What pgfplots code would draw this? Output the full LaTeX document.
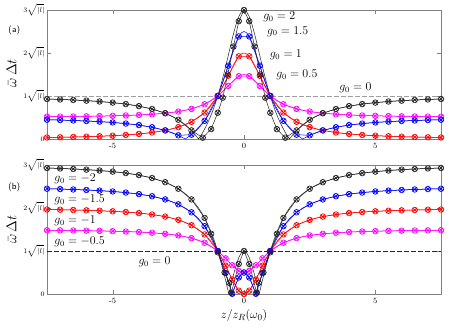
\documentclass[border=0pt]{standalone}
\usepackage{pgfplots}
\usepackage{pgfplotstable}
\pgfplotsset{compat=1.18}
\definecolor{mblack}{RGB}{35,35,35}
\definecolor{mblue}{RGB}{0,0,255}
\definecolor{mred}{RGB}{255,0,0}
\definecolor{mmag}{RGB}{255,0,255}

% theory curves: a* = g0>0 (panel a), b* = g0<0 (panel b)
\pgfplotstableread{
z a2 a15 a1 a05 b2 b15 b1 b05
-7.5 0.9301 0.4476 0.0349 0.5175 2.9301 2.4476 1.9651 1.4825
-7.0 0.92 0.44 0.04 0.52 2.92 2.44 1.96 1.48
-6.5 0.9075 0.4306 0.0462 0.5231 2.9075 2.4306 1.9538 1.4769
-6.0 0.8919 0.4189 0.0541 0.5270 2.8919 2.4189 1.9459 1.4730
-5.5 0.872 0.404 0.064 0.532 2.872 2.404 1.936 1.468
-5.0 0.8462 0.3846 0.0769 0.5385 2.8462 2.3846 1.9231 1.4615
-4.5 0.8118 0.3588 0.0941 0.5471 2.8118 2.3588 1.9059 1.4529
-4.0 0.7647 0.3235 0.1176 0.5588 2.7647 2.3235 1.8824 1.4412
-3.5 0.6981 0.2736 0.1509 0.5755 2.6981 2.2736 1.8491 1.4245
-3.0 0.6 0.2 0.2 0.6 2.6 2.2 1.8 1.4
-2.75 0.5328 0.1496 0.2336 0.6168 2.5328 2.1496 1.7664 1.3832
-2.5 0.4483 0.0862 0.2759 0.6379 2.4483 2.0862 1.7241 1.3621
-2.236 0.3333 0 0.3333 0.6667 2.3333 2.0 1.6667 1.3333
-2.0 0.2 0.1 0.4 0.7 2.2 1.9 1.6 1.3
-1.8 0.0566 0.2075 0.4717 0.7358 2.0566 1.7925 1.5283 1.2642
-1.732 0 0.25 0.5 0.75 2 1.75 1.5 1.25
-1.6 0.1236 0.3427 0.5618 0.7809 1.8764 1.6573 1.4382 1.2191
-1.5 0.2308 0.4231 0.6154 0.8077 1.7692 1.5769 1.3846 1.1923
-1.4 0.3514 0.5135 0.6757 0.8378 1.6486 1.4865 1.3243 1.1622
-1.3 0.487 0.6152 0.7435 0.8718 1.513 1.3848 1.2565 1.1283
-1.2 0.6393 0.7295 0.8197 0.9098 1.3607 1.2705 1.1803 1.0902
-1.1 0.81 0.8575 0.905 0.9525 1.19 1.1425 1.095 1.0475
-1.0 1 1 1 1 1 1 1 1
-0.9 1.2099 1.1575 1.105 1.0525 0.7901 0.8425 0.895 0.9475
-0.8 1.439 1.3293 1.2195 1.1098 0.561 0.6707 0.7805 0.8902
-0.7 1.6846 1.5134 1.3423 1.1711 0.3154 0.4866 0.6577 0.8289
-0.6 1.9412 1.7059 1.4706 1.2353 0.0588 0.2941 0.5294 0.7647
-0.577 2.0 1.75 1.5 1.25 0 0.25 0.5 0.75
-0.5 2.2 1.9 1.6 1.3 0.2 0.1 0.4 0.7
-0.447 2.3333 2.0 1.6667 1.3333 0.3333 0 0.3333 0.6667
-0.4 2.4483 2.0862 1.7241 1.3621 0.4483 0.0862 0.2759 0.6379
-0.3 2.6697 2.2523 1.8349 1.4174 0.6697 0.2523 0.1651 0.5826
-0.2 2.8462 2.3846 1.9231 1.4615 0.8462 0.3846 0.0769 0.5385
-0.1 2.9604 2.4703 1.9802 1.4901 0.9604 0.4703 0.0198 0.5099
0 3 2.5 2 1.5 1 0.5 0 0.5
0.1 2.9604 2.4703 1.9802 1.4901 0.9604 0.4703 0.0198 0.5099
0.2 2.8462 2.3846 1.9231 1.4615 0.8462 0.3846 0.0769 0.5385
0.3 2.6697 2.2523 1.8349 1.4174 0.6697 0.2523 0.1651 0.5826
0.4 2.4483 2.0862 1.7241 1.3621 0.4483 0.0862 0.2759 0.6379
0.447 2.3333 2.0 1.6667 1.3333 0.3333 0 0.3333 0.6667
0.5 2.2 1.9 1.6 1.3 0.2 0.1 0.4 0.7
0.577 2.0 1.75 1.5 1.25 0 0.25 0.5 0.75
0.6 1.9412 1.7059 1.4706 1.2353 0.0588 0.2941 0.5294 0.7647
0.7 1.6846 1.5134 1.3423 1.1711 0.3154 0.4866 0.6577 0.8289
0.8 1.439 1.3293 1.2195 1.1098 0.561 0.6707 0.7805 0.8902
0.9 1.2099 1.1575 1.105 1.0525 0.7901 0.8425 0.895 0.9475
1.0 1 1 1 1 1 1 1 1
1.1 0.81 0.8575 0.905 0.9525 1.19 1.1425 1.095 1.0475
1.2 0.6393 0.7295 0.8197 0.9098 1.3607 1.2705 1.1803 1.0902
1.3 0.487 0.6152 0.7435 0.8718 1.513 1.3848 1.2565 1.1283
1.4 0.3514 0.5135 0.6757 0.8378 1.6486 1.4865 1.3243 1.1622
1.5 0.2308 0.4231 0.6154 0.8077 1.7692 1.5769 1.3846 1.1923
1.6 0.1236 0.3427 0.5618 0.7809 1.8764 1.6573 1.4382 1.2191
1.732 0 0.25 0.5 0.75 2 1.75 1.5 1.25
1.8 0.0566 0.2075 0.4717 0.7358 2.0566 1.7925 1.5283 1.2642
2.0 0.2 0.1 0.4 0.7 2.2 1.9 1.6 1.3
2.236 0.3333 0 0.3333 0.6667 2.3333 2.0 1.6667 1.3333
2.5 0.4483 0.0862 0.2759 0.6379 2.4483 2.0862 1.7241 1.3621
2.75 0.5328 0.1496 0.2336 0.6168 2.5328 2.1496 1.7664 1.3832
3.0 0.6 0.2 0.2 0.6 2.6 2.2 1.8 1.4
3.5 0.6981 0.2736 0.1509 0.5755 2.6981 2.2736 1.8491 1.4245
4.0 0.7647 0.3235 0.1176 0.5588 2.7647 2.3235 1.8824 1.4412
4.5 0.8118 0.3588 0.0941 0.5471 2.8118 2.3588 1.9059 1.4529
5.0 0.8462 0.3846 0.0769 0.5385 2.8462 2.3846 1.9231 1.4615
5.5 0.872 0.404 0.064 0.532 2.872 2.404 1.936 1.468
6.0 0.8919 0.4189 0.0541 0.5270 2.8919 2.4189 1.9459 1.4730
6.5 0.9075 0.4306 0.0462 0.5231 2.9075 2.4306 1.9538 1.4769
7.0 0.92 0.44 0.04 0.52 2.92 2.44 1.96 1.48
7.5 0.9301 0.4476 0.0349 0.5175 2.9301 2.4476 1.9651 1.4825
}\theory

\pgfplotsset{
  panel/.style={
    scale only axis, width=394bp, height=129bp,
    xmin=-7.5, xmax=7.5, ymin=0, ymax=3,
    xtick={-5,0,5}, xticklabels={-5,0,5},
    ytick={0,1,2,3},
    yticklabels={$0$,$1\sqrt{|l|}$,$2\sqrt{|l|}$,$3\sqrt{|l|}$},
    tick align=inside, major tick length=4bp,
    axis line style={black!50, line width=0.6bp}, tick style={black!50},
    xticklabel style={font=\footnotesize, yshift=-1bp},
    yticklabel style={font=\scriptsize, xshift=1bp},
    clip=false,
  },
  thy/.style={line width=0.5bp},
  sim/.style={line width=0.5bp, mark=otimes, mark size=2.8bp, mark options={solid, line width=0.7bp}},
}
\tikzset{lab/.style={font=\fontsize{11.5}{13}\selectfont}}

\begin{document}
\begin{tikzpicture}[x=1bp,y=1bp]
\useasboundingbox (0,-2) rectangle (463,329);

% ---------------- (a) g0 > 0
\begin{axis}[panel, at={(47bp,190bp)}, anchor=south west]
  \addplot[gray!75, line width=0.9bp, dash pattern=on 4.5bp off 2.5bp] coordinates {(-7.5,1) (7.5,1)};
  \addplot[thy, mmag] table[x=z, y=a05] {\theory};
  \addplot[thy, mred] table[x=z, y=a1] {\theory};
  \addplot[thy, mblue] table[x=z, y=a15] {\theory};
  \addplot[thy, mblack] table[x=z, y=a2] {\theory};
  \addplot[sim, mmag] coordinates {
    (-7.5,0.517) (-7,0.52) (-6.5,0.523) (-6,0.527) (-5.5,0.532) (-5,0.538) (-4.5,0.547) (-4,0.559)
    (-3.5,0.575) (-3,0.6) (-2.5,0.638) (-2,0.7) (-1.5,0.808) (-1,1) (-0.6,1.235) (-0.2,1.462)
    (0.2,1.462) (0.6,1.235) (1,1) (1.5,0.808) (2,0.7) (2.5,0.638) (3,0.6) (3.5,0.575)
    (4,0.559) (4.5,0.547) (5,0.538) (5.5,0.532) (6,0.527) (6.5,0.523) (7,0.52) (7.5,0.517)};
  \addplot[sim, mred] coordinates {
    (-7.5,0.035) (-7,0.04) (-6.5,0.046) (-6,0.054) (-5.5,0.064) (-5,0.077) (-4.5,0.094) (-4,0.118)
    (-3.5,0.151) (-3,0.2) (-2.5,0.276) (-2,0.4) (-1.5,0.615) (-1,1) (-0.6,1.471) (-0.2,1.923)
    (0.2,1.923) (0.6,1.471) (1,1) (1.5,0.615) (2,0.4) (2.5,0.276) (3,0.2) (3.5,0.151)
    (4,0.118) (4.5,0.094) (5,0.077) (5.5,0.064) (6,0.054) (6.5,0.046) (7,0.04) (7.5,0.035)};
  \addplot[sim, mblue] coordinates {
    (-7.5,0.448) (-7,0.44) (-6.5,0.431) (-6,0.419) (-5.5,0.404) (-5,0.385) (-4.5,0.359) (-4,0.324)
    (-3.5,0.274) (-3,0.2) (-2.5,0.086) (-2,0.1) (-1.5,0.423) (-1,1) (-0.6,1.706) (-0.2,2.385)
    (0.2,2.385) (0.6,1.706) (1,1) (1.5,0.423) (2,0.1) (2.5,0.086) (3,0.2) (3.5,0.274)
    (4,0.324) (4.5,0.359) (5,0.385) (5.5,0.404) (6,0.419) (6.5,0.431) (7,0.44) (7.5,0.448)};
  \addplot[sim, mblack] coordinates {
    (-7.5,0.93) (-7,0.92) (-6.5,0.908) (-6,0.892) (-5.5,0.872) (-5,0.846) (-4.5,0.812) (-4,0.765)
    (-3.5,0.698) (-3,0.6) (-2.5,0.448) (-2,0.2) (-1.57,0.03) (-1.25,0.23) (-1,0.61) (-0.81,0.96)
    (-0.62,1.5) (-0.4,2.15) (-0.2,2.74) (0,3) (0.2,2.74) (0.4,2.15) (0.62,1.5) (0.81,0.96)
    (1,0.61) (1.25,0.23) (1.57,0.03) (2,0.2) (2.5,0.448) (3,0.6) (3.5,0.698) (4,0.765)
    (4.5,0.812) (5,0.846) (5.5,0.872) (6,0.892) (6.5,0.908) (7,0.92) (7.5,0.93)};
  \node[lab, anchor=west] at (axis cs:0.6,2.84) {$g_0=2$};
  \node[lab, anchor=west] at (axis cs:0.75,2.5) {$g_0=1.5$};
  \node[lab, anchor=west] at (axis cs:0.85,1.95) {$g_0=1$};
  \node[lab, anchor=west] at (axis cs:1.1,1.49) {$g_0=0.5$};
  \node[lab, anchor=west] at (axis cs:3.5,1.19) {$g_0=0$};
  \node[font=\sffamily\small] at (rel axis cs:-0.083,0.84) {(a)};
  \node[rotate=90, font=\Large] at (rel axis cs:-0.09,0.51) {$\bar{\omega}\,\Delta t$};
\end{axis}

% ---------------- (b) g0 < 0
\begin{axis}[panel, at={(47bp,35bp)}, anchor=south west]
  \addplot[black!85, line width=0.7bp, dash pattern=on 4.5bp off 2.5bp] coordinates {(-7.5,1) (7.5,1)};
  \addplot[thy, mmag] table[x=z, y=b05] {\theory};
  \addplot[thy, mred] table[x=z, y=b1] {\theory};
  \addplot[thy, mblue] table[x=z, y=b15] {\theory};
  \addplot[thy, mblack] table[x=z, y=b2] {\theory};
  \addplot[sim, mmag] coordinates {
    (-7.5,1.483) (-7,1.48) (-6.5,1.477) (-6,1.473) (-5.5,1.468) (-5,1.462) (-4.5,1.453) (-4,1.441)
    (-3.5,1.425) (-3,1.4) (-2.5,1.362) (-2,1.3) (-1.5,1.192) (-1,1) (-0.7,0.829) (-0.45,0.668)
    (-0.2,0.538) (0,0.5) (0.2,0.538) (0.45,0.668) (0.7,0.829) (1,1) (1.5,1.192) (2,1.3)
    (2.5,1.362) (3,1.4) (3.5,1.425) (4,1.441) (4.5,1.453) (5,1.462) (5.5,1.468) (6,1.473)
    (6.5,1.477) (7,1.48) (7.5,1.483)};
  \addplot[sim, mred] coordinates {
    (-7.5,1.965) (-7,1.96) (-6.5,1.954) (-6,1.946) (-5.5,1.936) (-5,1.923) (-4.5,1.906) (-4,1.882)
    (-3.5,1.849) (-3,1.8) (-2.5,1.724) (-2,1.6) (-1.5,1.385) (-1,1) (-0.7,0.658) (-0.45,0.337)
    (-0.2,0.077) (0,0) (0.2,0.077) (0.45,0.337) (0.7,0.658) (1,1) (1.5,1.385) (2,1.6)
    (2.5,1.724) (3,1.8) (3.5,1.849) (4,1.882) (4.5,1.906) (5,1.923) (5.5,1.936) (6,1.946)
    (6.5,1.954) (7,1.96) (7.5,1.965)};
  \addplot[sim, mblue] coordinates {
    (-7.5,2.448) (-7,2.44) (-6.5,2.431) (-6,2.419) (-5.5,2.404) (-5,2.385) (-4.5,2.359) (-4,2.324)
    (-3.5,2.274) (-3,2.2) (-2.5,2.086) (-2,1.9) (-1.5,1.577) (-1,1) (-0.7,0.487) (-0.45,0.005)
    (-0.2,0.385) (0,0.5) (0.2,0.385) (0.45,0.005) (0.7,0.487) (1,1) (1.5,1.577) (2,1.9)
    (2.5,2.086) (3,2.2) (3.5,2.274) (4,2.324) (4.5,2.359) (5,2.385) (5.5,2.404) (6,2.419)
    (6.5,2.431) (7,2.44) (7.5,2.448)};
  \addplot[sim, mblack] coordinates {
    (-7.5,2.93) (-7,2.92) (-6.5,2.908) (-6,2.892) (-5.5,2.872) (-5,2.846) (-4.5,2.812) (-4,2.765)
    (-3.5,2.698) (-3,2.6) (-2.5,2.448) (-2,2.2) (-1.5,1.77) (-1.25,1.4) (-1,0.97) (-0.74,0.5)
    (-0.56,0.26) (-0.48,0.03) (-0.2,0.7) (0,1) (0.2,0.7) (0.48,0.03) (0.56,0.26) (0.74,0.5)
    (1,0.97) (1.25,1.4) (1.5,1.77) (2,2.2) (2.5,2.448) (3,2.6) (3.5,2.698) (4,2.765)
    (4.5,2.812) (5,2.846) (5.5,2.872) (6,2.892) (6.5,2.908) (7,2.92) (7.5,2.93)};
  \node[lab, anchor=west] at (axis cs:-7.35,2.67) {$g_0=-2$};
  \node[lab, anchor=west] at (axis cs:-7.35,2.19) {$g_0=-1.5$};
  \node[lab, anchor=west] at (axis cs:-7.35,1.70) {$g_0=-1$};
  \node[lab, anchor=west] at (axis cs:-7.35,1.21) {$g_0=-0.5$};
  \node[lab, anchor=west] at (axis cs:-4.15,0.74) {$g_0=0$};
  \node[font=\sffamily\small] at (rel axis cs:-0.083,0.83) {(b)};
  \node[rotate=90, font=\Large] at (rel axis cs:-0.09,0.5) {$\bar{\omega}\,\Delta t$};
  \node[font=\fontsize{13}{15}\selectfont] at (rel axis cs:0.5,-0.17) {$z/z_R(\omega_0)$};
\end{axis}
\end{tikzpicture}
\end{document}
